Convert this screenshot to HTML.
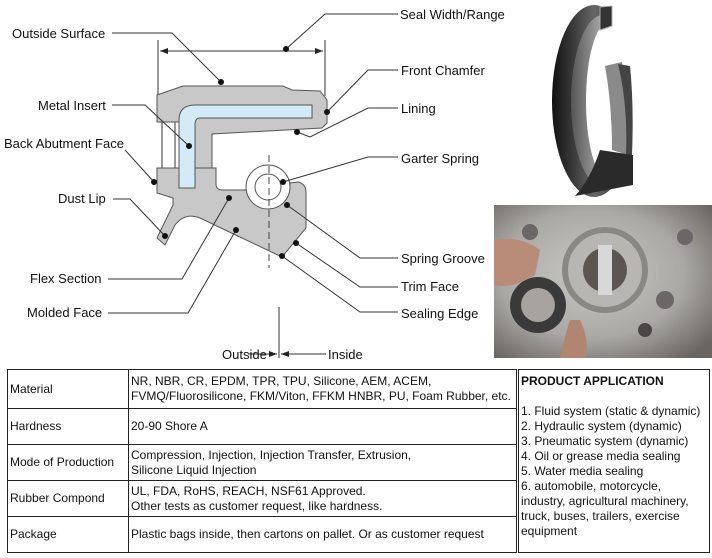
<!DOCTYPE html>
<html><head><meta charset="utf-8"><style>
body{margin:0;background:#fff;width:712px;height:558px;overflow:hidden;position:relative;font-family:"Liberation Sans",Arial,sans-serif}
svg{position:absolute;left:0;top:0}
table{position:absolute;left:7px;top:369px;border-collapse:collapse;font-size:12px;line-height:15px;color:#111}
td{border:1px solid #222;padding:0 2px;vertical-align:middle}
</style></head><body>
<svg width="712" height="558" viewBox="0 0 712 558">
<defs>
<marker id="ar" markerWidth="8" markerHeight="6" refX="8" refY="3" orient="auto"><path d="M0,0 L8,3 L0,6 Z" fill="#222"/></marker>
<linearGradient id="ring" x1="0" x2="1"><stop offset="0" stop-color="#111"/><stop offset=".25" stop-color="#3a3a3a"/><stop offset=".5" stop-color="#666"/><stop offset="1" stop-color="#222"/></linearGradient>
<linearGradient id="inr" x1="0" x2="1"><stop offset="0" stop-color="#555"/><stop offset=".5" stop-color="#aaa"/><stop offset="1" stop-color="#ddd"/></linearGradient>
<radialGradient id="ph" cx=".45" cy=".45" r=".7"><stop offset="0" stop-color="#c9c9c6"/><stop offset=".6" stop-color="#a9a8a4"/><stop offset="1" stop-color="#6a6560"/></radialGradient>
<clipPath id="cut"><path d="M540,0 L612,0 L612,28 L600,30 L600,150 L640,150 L640,200 L540,200 Z"/></clipPath>
</defs>
<g stroke="#333" stroke-width="1" fill="none">
<line x1="158" y1="40" x2="158" y2="95"/><line x1="325" y1="40" x2="325" y2="96"/>
<line x1="160" y1="51" x2="323" y2="51" marker-end="url(#ar)"/><line x1="323" y1="51" x2="160" y2="51" marker-end="url(#ar)"/>
<line x1="162" y1="122" x2="162" y2="168"/><line x1="175" y1="122" x2="175" y2="168"/>
<line x1="198" y1="133" x2="198" y2="170"/><line x1="212" y1="133" x2="212" y2="170"/>
</g>
<path d="M157,95 L183,86 L283,86 L292,90 L320,91 L327,100 L327,123 L322,128 L212,134 L212,170 L179,170 L179,122 L157,122 Z" fill="#c8c8c8" stroke="#555"/>
<path d="M157,168 L216,168 L216,185 Q217,190 222,190 L247,190 A22,22 0 0 0 290,183 L298,182 Q306,184 306,192 L306,228 L282,257 L200,218 Q185,212 175,225 L165,245 L157,238 L173,205 L173,198 L157,193 Z" fill="#c8c8c8" stroke="#555"/>
<path d="M179,120 Q179,105 195,105 L312,105 L312,118 L200,118 Q195,118 195,125 L195,188 L179,188 Z" fill="#d3ebf7" stroke="#555"/>
<circle cx="268" cy="187" r="22" fill="#fff" stroke="#555"/><circle cx="268" cy="187" r="13" fill="#fff" stroke="#555"/>
<line x1="269" y1="155" x2="269" y2="268" stroke="#444" stroke-dasharray="7,4"/>
<g stroke="#333" fill="none">
<polyline points="112,33 172,33 221,82"/>
<polyline points="112,105 145,105 189,146"/>
<polyline points="125,150 154,182"/>
<polyline points="113,199 130,199 165,236"/>
<polyline points="108,279 182,279 229,198"/>
<polyline points="108,313 188,313 236,230"/>
<polyline points="398,14 325,14 286,49"/>
<polyline points="398,70 368,70 327,112"/>
<polyline points="398,108 368,108 310,137 297,132"/>
<polyline points="398,157 368,157 283,182"/>
<polyline points="398,258 360,258 287,205"/>
<polyline points="398,287 360,287 296,243"/>
<polyline points="398,312 360,312 282,256"/>
<line x1="279" y1="307" x2="279" y2="358"/>
<line x1="248" y1="354" x2="277" y2="354" marker-end="url(#ar)"/>
<line x1="326" y1="354" x2="281" y2="354" marker-end="url(#ar)"/>
</g>
<g fill="#111">
<circle cx="221" cy="82" r="3"/><circle cx="189" cy="146" r="3"/><circle cx="154" cy="182" r="3"/><circle cx="165" cy="236" r="3"/><circle cx="229" cy="198" r="3"/><circle cx="236" cy="230" r="3"/><circle cx="286" cy="49" r="3"/><circle cx="327" cy="112" r="3"/><circle cx="297" cy="132" r="3"/><circle cx="283" cy="182" r="3"/><circle cx="287" cy="205" r="3"/><circle cx="296" cy="243" r="3"/><circle cx="282" cy="256" r="3"/>
</g>
<g font-size="13" fill="#111" font-family="Liberation Sans,Arial,sans-serif">
<text x="12" y="38">Outside Surface</text>
<text x="38" y="110">Metal Insert</text>
<text x="4" y="148">Back Abutment Face</text>
<text x="58" y="203">Dust Lip</text>
<text x="30" y="283">Flex Section</text>
<text x="27" y="317">Molded Face</text>
<text x="400" y="19">Seal Width/Range</text>
<text x="401" y="75">Front Chamfer</text>
<text x="401" y="113">Lining</text>
<text x="401" y="163">Garter Spring</text>
<text x="401" y="263">Spring Groove</text>
<text x="401" y="291">Trim Face</text>
<text x="401" y="318">Sealing Edge</text>
<text x="222" y="359">Outside</text>
<text x="328" y="359">Inside</text>
</g>
<!-- seal photo -->
<g clip-path="url(#cut)">
<ellipse cx="594" cy="101" rx="42" ry="96" fill="url(#ring)"/>
<ellipse cx="603" cy="101" rx="32" ry="86" fill="url(#inr)"/>
<ellipse cx="608" cy="101" rx="22" ry="78" fill="#fff"/>
</g>
<path d="M600,7 L612,6 L612,26 L600,30 Z" fill="#333" stroke="#aaa"/>
<path d="M605,66 L622,62 Q630,100 628,155 L612,150 Q612,105 605,66 Z" fill="#8a8a8a"/>
<path d="M618,64 L630,66 Q634,105 632,155 L626,155 Q628,105 618,64 Z" fill="#444"/>
<path d="M600,150 L633,155 L633,185 L575,196 Q590,180 600,150 Z" fill="#2a2a2a"/>
<!-- bottom photo -->
<rect x="494" y="205" width="218" height="153" fill="url(#ph)"/>
<circle cx="605" cy="270" r="40" fill="#b8b6b2" stroke="#8a8883" stroke-width="6"/>
<circle cx="605" cy="270" r="22" fill="#5a5652"/>
<rect x="598" y="245" width="14" height="50" fill="#d8d8d8"/>
<circle cx="538" cy="305" r="28" fill="#3b3a3a"/><circle cx="538" cy="305" r="17" fill="#a7a4a0"/>
<path d="M494,240 Q520,235 540,250 L535,275 Q510,290 494,285 Z" fill="#b88c78"/>
<path d="M580,320 Q590,340 585,358 L560,358 Q565,335 570,320 Z" fill="#b08672"/>
<circle cx="530" cy="232" r="8" fill="#6a6766"/><circle cx="685" cy="237" r="8" fill="#6a6766"/><circle cx="665" cy="300" r="9" fill="#6a6766"/><circle cx="645" cy="330" r="7" fill="#4a4746"/>
</svg>
<table>
<tr style="height:39px"><td style="width:116px">Material</td><td style="width:383px">NR, NBR, CR, EPDM, TPR, TPU, Silicone, AEM, ACEM,<br>FVMQ/Fluorosilicone, FKM/Viton, FFKM HNBR, PU, Foam Rubber, etc.</td><td rowspan="5" style="width:186px;vertical-align:top;border-left:3px double #222;padding-top:4px"><b>PRODUCT APPLICATION</b><br><br>1. Fluid system (static &amp; dynamic)<br>2. Hydraulic system (dynamic)<br>3. Pneumatic system (dynamic)<br>4. Oil or grease media sealing<br>5. Water media sealing<br>6. automobile, motorcycle, industry, agricultural machinery, truck, buses, trailers, exercise equipment</td></tr>
<tr style="height:36px"><td>Hardness</td><td>20-90 Shore A</td></tr>
<tr style="height:36px"><td>Mode of Production</td><td>Compression, Injection, Injection Transfer, Extrusion,<br>Silicone Liquid Injection</td></tr>
<tr style="height:36px"><td>Rubber Compond</td><td>UL, FDA, RoHS, REACH, NSF61 Approved.<br>Other tests as customer request, like hardness.</td></tr>
<tr style="height:36px"><td>Package</td><td>Plastic bags inside, then cartons on pallet. Or as customer request</td></tr>
</table>
</body></html>
